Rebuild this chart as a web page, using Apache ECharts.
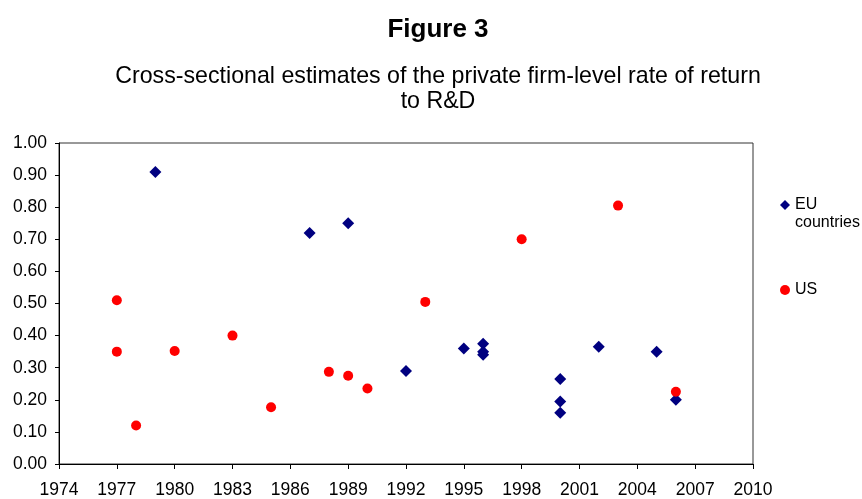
<!DOCTYPE html>
<html>
<head>
<meta charset="utf-8">
<script src="https://cdn.jsdelivr.net/npm/echarts@6/dist/echarts.min.js"></script>
<style>
html,body{margin:0;padding:0;background:#fff;}
#chart{width:862px;height:499px;}
</style>
</head>
<body>
<div id="chart"></div>
<script>
const euYears  = [1979, 1987, 1989, 1992, 1995, 1996, 1996, 1996, 2000, 2000, 2000, 2002, 2005, 2006];
const euValues = [0.91, 0.72, 0.75, 0.29, 0.36, 0.375, 0.35, 0.34, 0.265, 0.195, 0.16, 0.365, 0.35, 0.20];
const usYears  = [1977, 1977, 1978, 1980, 1983, 1985, 1988, 1989, 1990, 1993, 1998, 2003, 2006];
const usValues = [0.51, 0.35, 0.12, 0.352, 0.40, 0.177, 0.287, 0.275, 0.235, 0.505, 0.70, 0.805, 0.225];

const font = "'Liberation Sans', Arial, sans-serif";
const chart = echarts.init(document.getElementById('chart'));
chart.setOption({
  animation: false,
  textStyle: {fontFamily: font},
  title: [
    {text: 'Figure 3', left: 433, top: 12, textAlign: 'center',
     textStyle: {fontFamily: font, fontSize: 26, fontWeight: 'bold', color: '#000'}},
    {text: 'Cross-sectional estimates of the private firm-level rate of return\nto R&D',
     left: 433, top: 59, textAlign: 'center',
     textStyle: {fontFamily: font, fontSize: 23.2, fontWeight: 'normal', color: '#000', lineHeight: 25, align: 'center'}}
  ],
  grid: {left: 59, right: 109, top: 143, bottom: 33, show: true, borderColor: '#333', borderWidth: 1, backgroundColor: '#fff'},
  xAxis: {
    type: 'value', min: 1974, max: 2010, interval: 3,
    axisLine: {lineStyle: {color: '#000', width: 1}},
    axisTick: {show: true, inside: false, length: 5, lineStyle: {color: '#000'}},
    axisLabel: {color: '#000', fontSize: 17.5, fontFamily: font, margin: 17, formatter: v => String(v)},
    splitLine: {show: false}
  },
  yAxis: {
    type: 'value', min: 0, max: 1, interval: 0.1,
    axisLine: {show: true, lineStyle: {color: '#000', width: 1}},
    axisTick: {show: true, inside: false, length: 4, lineStyle: {color: '#000'}},
    axisLabel: {color: '#000', fontSize: 17.5, fontFamily: font, margin: 12, formatter: v => v.toFixed(2)},
    splitLine: {show: false}
  },
  legend: {
    orient: 'vertical', left: 775, top: 173, itemGap: 49,
    itemWidth: 10, itemHeight: 10,
    data: [
      {name: 'EU countries', icon: 'diamond'},
      {name: 'US', icon: 'circle'}
    ],
    formatter: n => n === 'EU countries' ? ' \nEU\ncountries' : n,
    textStyle: {fontFamily: font, fontSize: 16, color: '#000', lineHeight: 18},
    itemStyle: {borderWidth: 0, opacity: 1}
  },
  series: [
    {name: 'EU countries', type: 'scatter', symbol: 'diamond', symbolSize: 12,
     itemStyle: {color: '#000080', opacity: 1},
     data: euYears.map((y, i) => [y, euValues[i]])},
    {name: 'US', type: 'scatter', symbol: 'circle', symbolSize: 10,
     itemStyle: {color: '#FF0000', opacity: 1},
     data: usYears.map((y, i) => [y, usValues[i]])}
  ]
});
</script>
</body>
</html>
